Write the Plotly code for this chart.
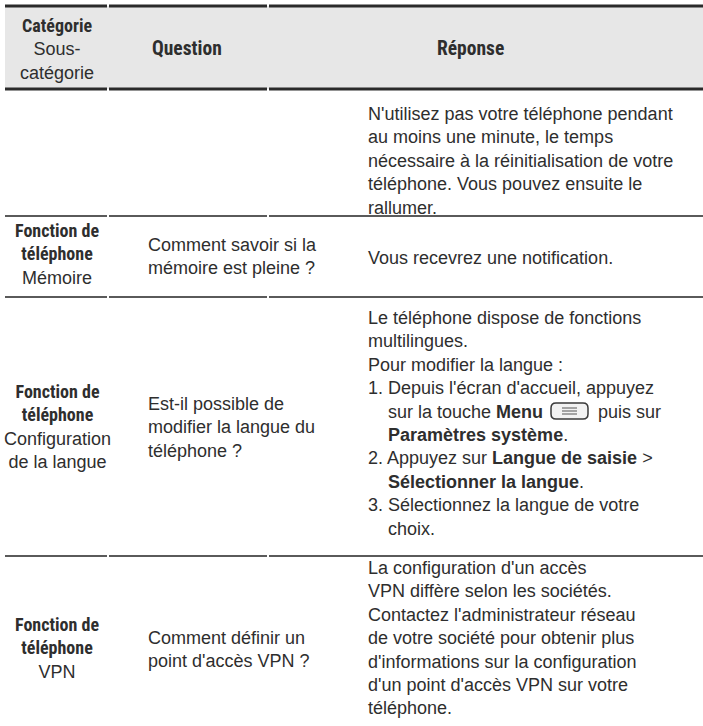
import plotly.graph_objects as go

W, H = 703, 726

NARROW = "font-family:'Liberation Sans Narrow','Roboto Condensed','Liberation Sans',sans-serif;font-weight:bold"


def B(t, size=None):
    st = NARROW + (f";font-size:{size}px" if size else "")
    return "<span style=\"" + st + "\">" + t + "</span>"


def BA(t):
    return "<b>" + t + "</b>"


NB = "\u00a0"
IND = NB * 4

# ---- table content ----
header_labels = [B("Catégorie") + "<br>Sous-<br>catégorie", B("Question", 19.5), B("Réponse", 19.5)]

categories = ["",
              B("Fonction de") + "<br>" + B("téléphone") + "<br>Mémoire",
              B("Fonction de") + "<br>" + B("téléphone") + "<br>Configuration<br>de la langue",
              B("Fonction de") + "<br>" + B("téléphone") + "<br>VPN"]

questions = ["",
             "Comment savoir si la<br>mémoire est pleine ?",
             "Est-il possible de<br>modifier la langue du<br>téléphone ?",
             "Comment définir un<br>point d'accès VPN ?"]

answers = [
    "N'utilisez pas votre téléphone pendant<br>au moins une minute, le temps<br>"
    "nécessaire à la réinitialisation de votre<br>téléphone. Vous pouvez ensuite le<br>rallumer.",
    "Vous recevrez une notification.",
    "Le téléphone dispose de fonctions<br>multilingues.<br>Pour modifier la langue :<br>"
    "1. Depuis l'écran d'accueil, appuyez<br>" + IND + "sur la touche " + BA("Menu") + NB * 11 + "puis sur<br>"
    + IND + BA("Paramètres système") + ".<br>"
    "2. Appuyez sur " + BA("Langue de saisie") + " ><br>" + IND + BA("Sélectionner la langue") + ".<br>"
    "3. Sélectionnez la langue de votre<br>" + IND + "choix.",
    "La configuration d'un accès<br>VPN diffère selon les sociétés.<br>Contactez l'administrateur réseau<br>"
    "de votre société pour obtenir plus<br>d'informations sur la configuration<br>"
    "d'un point d'accès VPN sur votre<br>téléphone.",
]

# ---- layout geometry (pixels) ----
col_edges = [5, 108, 268, 703]
header_top, header_bot = 6, 89
row_lines = [216, 297, 556]
cat_centers = [None, 254, 426, 648]
question_centers = [None, 256, 427, 649]
answer_centers = [161, 258, 423, 638]
cat_x, q_x, a_x = 57, 146, 366

FONT = "Liberation Sans, Arial, sans-serif"
TXT = "#2e2e2e"
FS = 18

fig = go.Figure()
fig.add_trace(go.Scatter(x=[0, W], y=[0, H], mode="markers", marker=dict(opacity=0),
                         hoverinfo="skip", showlegend=False))

shapes = [dict(type="rect", x0=col_edges[0], x1=col_edges[-1], y0=header_top, y1=header_bot,
               fillcolor="#e7e7e7", line=dict(width=0), layer="below")]


def hline(y, w, c):
    for i in range(3):
        x0 = col_edges[i] + (1 if i > 0 else 0)
        x1 = col_edges[i + 1] - (1 if i < 2 else 0)
        shapes.append(dict(type="line", x0=x0, x1=x1, y0=y, y1=y, line=dict(color=c, width=w)))


hline(header_top, 3, "#2a2a2a")
hline(header_bot, 3, "#2a2a2a")
for y in row_lines:
    hline(y, 2, "#5a5a5a")

ann = []
hdr_y = (header_top + header_bot) / 2 + 1
ann.append(dict(x=cat_x, y=hdr_y, text=header_labels[0], xanchor="center", yanchor="middle", align="center"))
ann.append(dict(x=187, y=hdr_y, text=header_labels[1], xanchor="center", yanchor="middle", align="center"))
ann.append(dict(x=470, y=hdr_y, text=header_labels[2], xanchor="center", yanchor="middle", align="center"))

for i in range(4):
    if categories[i]:
        ann.append(dict(x=cat_x, y=cat_centers[i], text=categories[i], xanchor="center", yanchor="middle", align="center"))
    if questions[i]:
        ann.append(dict(x=q_x, y=question_centers[i], text=questions[i], xanchor="left", yanchor="middle", align="left"))
    ann.append(dict(x=a_x, y=answer_centers[i], text=answers[i], xanchor="left", yanchor="middle", align="left"))

for a in ann:
    a.update(xref="x", yref="y", showarrow=False, font=dict(family=FONT, size=FS, color=TXT))

# Menu key icon (rounded key outline with three lines)
kx0, kx1, ky0, ky1 = 551, 588, 403, 419
r = 5
shapes.append(dict(type="path",
                   path=(f"M {kx0 + r},{ky0} L {kx1 - r},{ky0} Q {kx1},{ky0} {kx1},{ky0 + r} "
                         f"L {kx1},{ky1 - r} Q {kx1},{ky1} {kx1 - r},{ky1} L {kx0 + r},{ky1} "
                         f"Q {kx0},{ky1} {kx0},{ky1 - r} L {kx0},{ky0 + r} Q {kx0},{ky0} {kx0 + r},{ky0} Z"),
                   line=dict(color="#3a3a3a", width=1.5), fillcolor="#f2f2f2"))
for dy in (-3, 0, 3):
    yy = (ky0 + ky1) / 2 + dy
    shapes.append(dict(type="line", x0=562, x1=577, y0=yy, y1=yy, line=dict(color="#555", width=1)))

fig.update_layout(
    width=W, height=H, margin=dict(l=0, r=0, t=0, b=0),
    paper_bgcolor="white", plot_bgcolor="white",
    xaxis=dict(range=[0, W], visible=False, fixedrange=True),
    yaxis=dict(range=[H, 0], visible=False, fixedrange=True),
    shapes=shapes, annotations=ann, showlegend=False,
)

fig.write_html("out.html", config={"displayModeBar": False},
               post_script="document.body.style.margin='0px';")
